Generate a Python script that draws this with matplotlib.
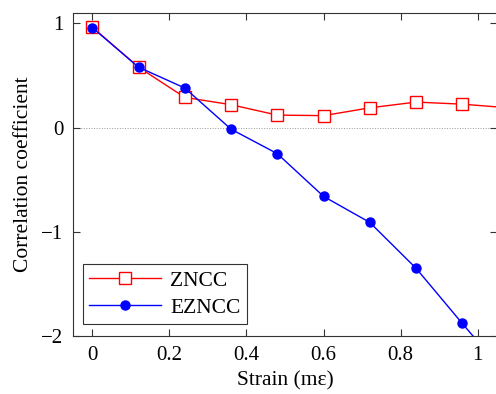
import matplotlib.pyplot as plt

plt.rcParams['font.family'] = ['Liberation Serif', 'DejaVu Serif']
plt.rcParams['mathtext.fontset'] = 'stix'

# strain steps (mε) and correlation coefficients of both criteria
strain = [0, 0.12, 0.24, 0.36, 0.48, 0.60, 0.72, 0.84, 0.96, 1.08]
zncc = [0.965, 0.58, 0.29, 0.22, 0.12, 0.115, 0.19, 0.245, 0.225, 0.19]
ezncc = [0.96, 0.58, 0.38, -0.015, -0.25, -0.66, -0.91, -1.35, -1.88, -2.40]

fig = plt.figure(figsize=(4.96, 3.94), dpi=100)
ax = fig.add_axes([73 / 496, 1 - 336 / 394, 424 / 496, 323 / 394])

ax.axhline(0, color='#999999', lw=0.7, ls=':', zorder=1)
ax.plot(strain, zncc, color='red', lw=1, marker='s', ms=8,
        mfc='white', mec='red', mew=1, label='ZNCC', zorder=3)
ax.plot(strain, ezncc, color='blue', lw=1, marker='o', ms=6.5,
        mfc='blue', mec='blue', label='EZNCC', zorder=4)

ax.set_xlim(-0.05, 1.05)
ax.set_ylim(-2, 1.1)
ax.set_xticks([0, 0.2, 0.4, 0.6, 0.8, 1])
ax.set_xticklabels(['0', '0.2', '0.4', '0.6', '0.8', '1'])
ax.set_yticks([-2, -1, 0, 1])
ax.set_yticklabels(['\u22122', '\u22121', '0', '1'])
ax.tick_params(direction='in', top=True, right=True, length=5, width=0.8,
               labelsize=15, color='#333333', pad=7)
for s in ax.spines.values():
    s.set_color('#333333')
    s.set_linewidth(0.8)

ax.set_xlabel('Strain (m\u03b5)', fontsize=15.5, labelpad=5)
ax.set_ylabel('Correlation coefficient', fontsize=15.5, labelpad=6)

leg = ax.legend(loc='lower left', bbox_to_anchor=(10 / 424, 12 / 323),
                borderaxespad=0, fontsize=15.5, fancybox=False,
                edgecolor='#333333', framealpha=1,
                handlelength=3.3, handletextpad=0.45, borderpad=0.3,
                labelspacing=0.3)
leg.get_frame().set_linewidth(0.8)

fig.savefig('out.png', dpi=100)
